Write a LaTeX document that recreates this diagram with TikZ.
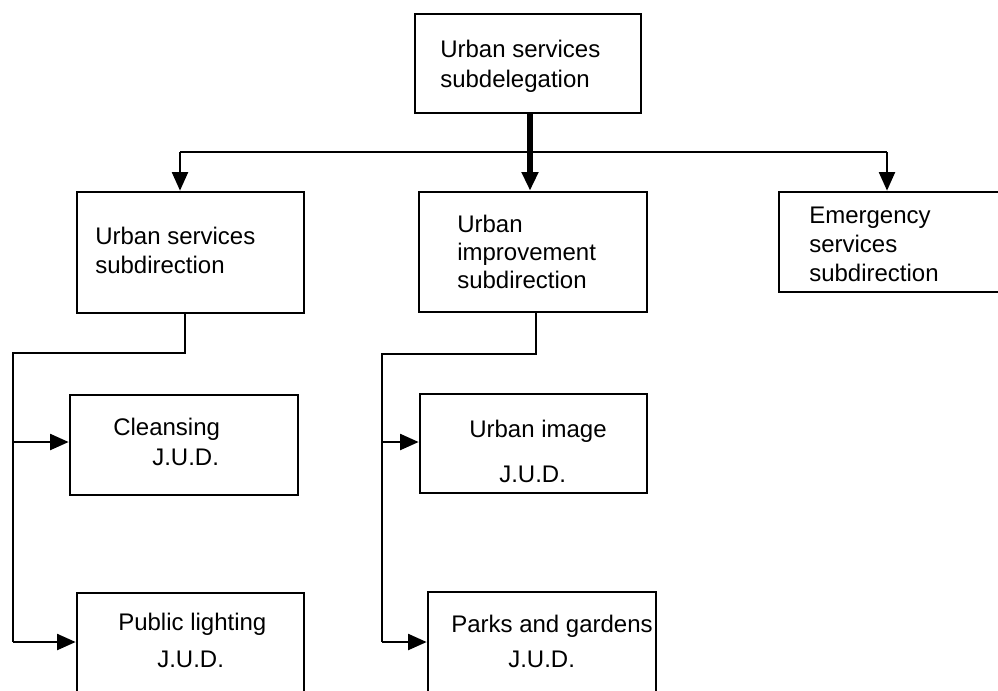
\documentclass[tikz,border=0pt]{standalone}
\usepackage{fontspec}
\setmainfont{Liberation Sans}
\usetikzlibrary{arrows.meta,fit}

\begin{document}
\begin{tikzpicture}[x=0.75pt,y=-0.75pt,
  box/.style={draw=black,line width=2pt,inner sep=0pt,fill=none},
  lbl/.style={anchor=base west,inner sep=0pt,font=\fontsize{18}{22}\selectfont},
  link/.style={draw=black,line width=1.8pt},
  tip/.style={-{Triangle[length=14pt,width=12pt]}},
  trunk/.style={draw=black,line width=4pt}]
\useasboundingbox (0,0) rectangle (998,690);
\clip (0,0) rectangle (998,690);

% organisation boxes
\node[box,fit={(415,14) (641,113)}]  (top) {};
\node[box,fit={(77,192) (304,313)}]  (usd) {};
\node[box,fit={(419,192) (647,312)}] (uid) {};
\node[box,fit={(779,192) (1010,292)}] (esd) {};
\node[box,fit={(70,395) (298,495)}]  (cln) {};
\node[box,fit={(77,593) (304,700)}]  (pub) {};
\node[box,fit={(420,394) (647,493)}] (img) {};
\node[box,fit={(428,592) (656,700)}] (prk) {};

% box texts
\node[lbl] (t1) at (440,57) {Urban services};
\node[lbl] (t2) at (440,87) {subdelegation};
\node[lbl] (t3) at (95,244) {Urban services};
\node[lbl] (t4) at (95,273) {subdirection};
\node[lbl] (t5) at (457,232) {Urban};
\node[lbl] (t6) at (457,260) {improvement};
\node[lbl] (t7) at (457,288) {subdirection};
\node[lbl] (t8) at (809,223) {Emergency};
\node[lbl] (t9) at (809,252) {services};
\node[lbl] (t10) at (809,281) {subdirection};
\node[lbl] (t11) at (113,435) {Cleansing};
\node[lbl] (t12) at (152,465) {J.U.D.};
\node[lbl] (t13) at (118,630) {Public lighting};
\node[lbl] (t14) at (157,667) {J.U.D.};
\node[lbl] (t15) at (469,437) {Urban image};
\node[lbl] (t16) at (499,482) {J.U.D.};
\node[lbl] (t17) at (451,632) {Parks and gardens};
\node[lbl] (t18) at (508,667) {J.U.D.};

% bend points
\coordinate (busL) at (180,152);
\coordinate (busR) at (887,152);
\coordinate (main) at (530,0);
\coordinate (lDrop) at (185,313);
\coordinate (lBend) at (185,353);
\coordinate (lTrunk) at (13,353);
\coordinate (lUp) at (13,442);
\coordinate (lLow) at (13,642);
\coordinate (mDrop) at (536,312);
\coordinate (mBend) at (536,354);
\coordinate (mTrunk) at (382,354);
\coordinate (mUp) at (382,442);
\coordinate (mLow) at (382,642);

% first level
\draw[link] (busL) -- (busR);
\draw[trunk,tip] (top.south -| main) -- (uid.north -| main);
\draw[link,tip] (busL) -- (busL |- usd.north);
\draw[link,tip] (busR) -- (busR |- esd.north);

% second level, left
\draw[link] (lDrop) -- (lBend) -- (lTrunk) -- (lLow);
\draw[link,tip] (lUp) -- (cln.west |- lUp);
\draw[link,tip] (lLow) -- (pub.west |- lLow);

% second level, middle
\draw[link] (mDrop) -- (mBend) -- (mTrunk) -- (mLow);
\draw[link,tip] (mUp) -- (img.west |- mUp);
\draw[link,tip] (mLow) -- (prk.west |- mLow);
\end{tikzpicture}
\end{document}
